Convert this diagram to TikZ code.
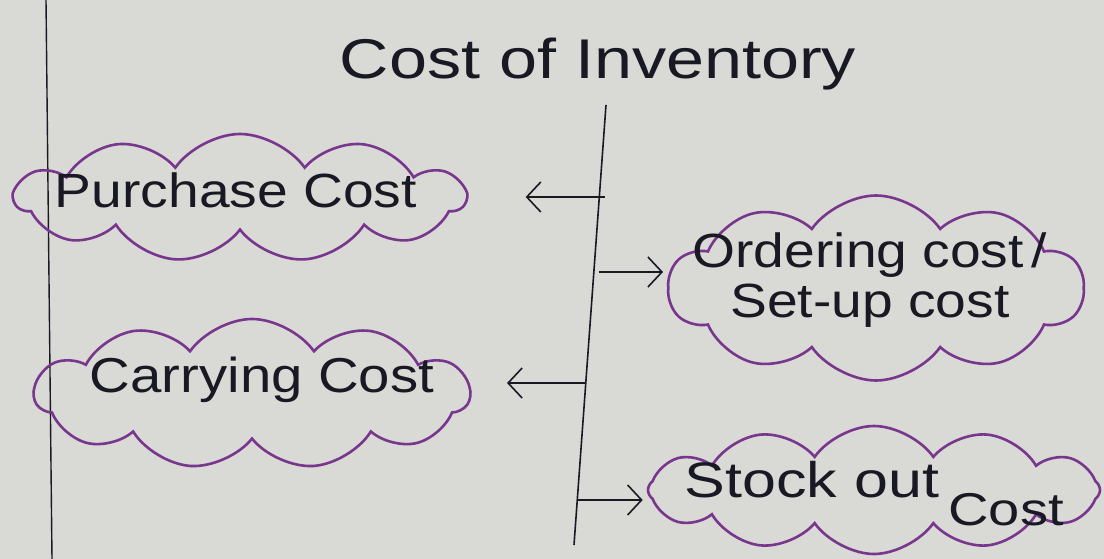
\documentclass[tikz,border=0pt]{standalone}
\usepackage{fontspec}
\setmainfont{Liberation Sans}
\newfontfamily\hand[FakeStretch=1.15]{Liberation Sans}
\newfontfamily\handwide[FakeStretch=1.22]{Liberation Sans}
\usetikzlibrary{shapes.symbols,arrows.meta}
\definecolor{paper}{RGB}{217,217,214}
\definecolor{ink}{RGB}{25,25,35}
\definecolor{pen}{RGB}{120,55,140}
\tikzset{
  cloudbox/.style={cloud, draw=pen, line width=2.6pt, cloud puffs=11, cloud puff arc=110, cloud ignores aspect, inner sep=0pt, text=ink, align=center},
  inktext/.style={text=ink, inner sep=0pt},
  inkline/.style={draw=ink, line width=1.6pt},
  barb/.style={inkline, -{Straight Barb[length=14pt,width=30pt,line width=1.6pt]}},
}
\begin{document}
\begin{tikzpicture}[x=1pt,y=-1pt]
\useasboundingbox (0,0) rectangle (1104,559);
\fill[paper] (0,0) rectangle (1104,559);
% margin line
\draw[inkline, line width=1.4pt] (46,0) -- (52,559);
% title
\node[inktext, font=\handwide\fontsize{56}{60}\selectfont] (title) at (598,64) {Cost of Inventory};
% trunk
\coordinate (ttop) at (606,105);
\coordinate (tbot) at (574,545);
\draw[inkline] (ttop) -- (tbot);
% clouds
\node[cloudbox, minimum width=450, minimum height=128] (purchase) at (240,198) {};
\node[inktext, font=\hand\fontsize{48}{52}\selectfont] (purchaseT) at (236,190) {Purchase Cost};
\node[cloudbox, cloud puffs=10, minimum width=415, minimum height=185] (ordering) at (876,288) {};
\node[inktext, align=center, font=\hand\fontsize{48}{50}\selectfont] (orderingT) at (870,280) {Ordering cost\,/\\Set-up cost};
\node[cloudbox, minimum width=435, minimum height=150] (carrying) at (252,394) {};
\node[inktext, font=\hand\fontsize{49}{52}\selectfont] (carryingT) at (262,380) {Carrying Cost};
\node[cloudbox, cloud puffs=12, minimum width=452, minimum height=128] (stock) at (874,490) {};
\node[inktext, font=\handwide\fontsize{50}{54}\selectfont] (stockT) at (812,480) {Stock out};
\node[inktext, font=\handwide\fontsize{46}{50}\selectfont] (costT) at (1006,510) {Cost};
% branch points on the trunk
\coordinate (p1) at (605,197);
\coordinate (p2) at (599,272);
\coordinate (p3) at (586,383);
\coordinate (p4) at (578,500);
\draw[barb, shorten >=57pt] (p1) -- (purchase.east |- p1);
\draw[barb, shorten >=4pt] (p2) -- (ordering.west |- p2);
\draw[barb, shorten >=35pt] (p3) -- (carrying.east |- p3);
\draw[barb, shorten >=4pt] (p4) -- (stock.west |- p4);
\end{tikzpicture}
\end{document}
